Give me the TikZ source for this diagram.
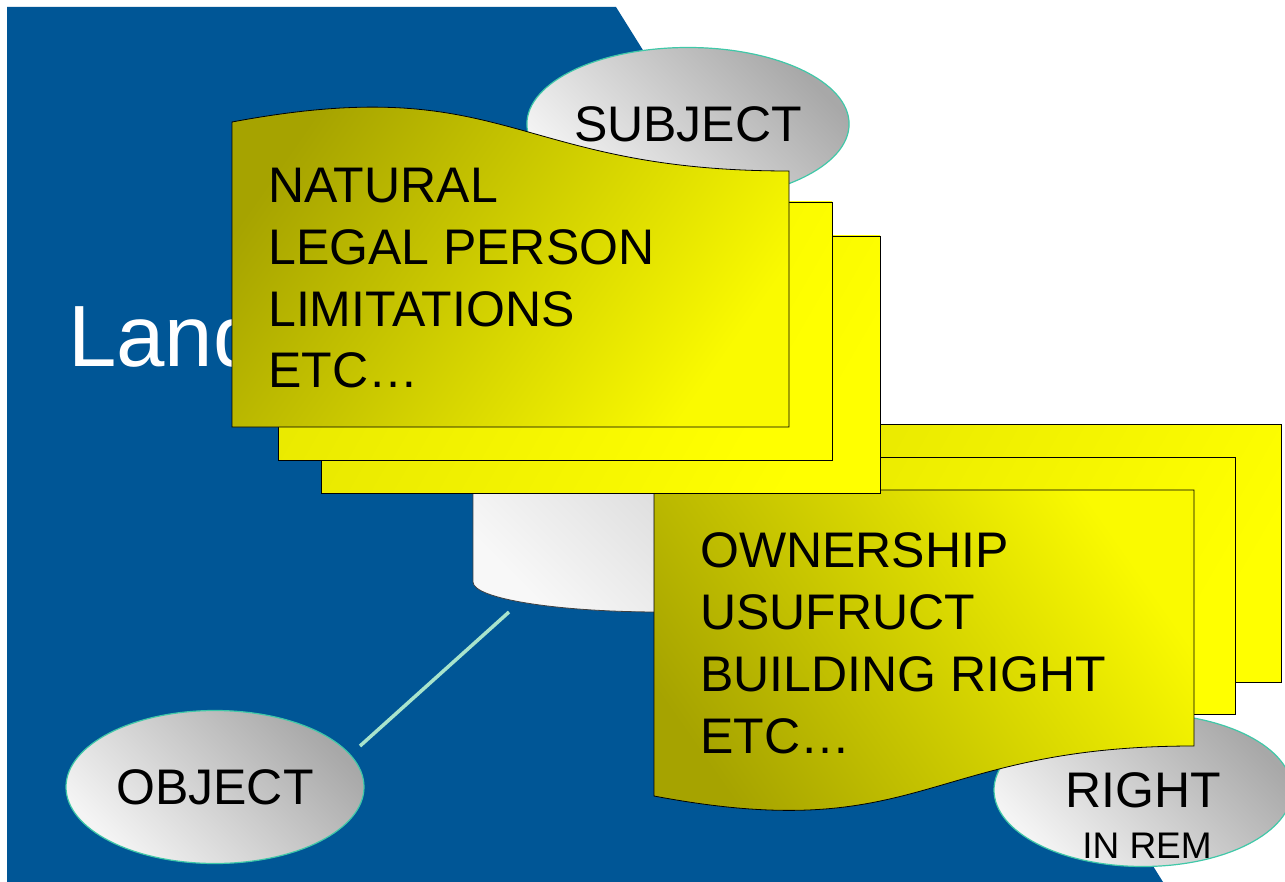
\documentclass[tikz,border=0pt]{standalone}
\usepackage{fontspec}
\setmainfont{Liberation Sans}
\usetikzlibrary{shapes.geometric}
\definecolor{landblue}{RGB}{0,86,150}
\definecolor{ovaldark}{RGB}{168,168,168}
\definecolor{ovallite}{RGB}{244,244,244}
\definecolor{ovalrim}{RGB}{64,200,168}
\definecolor{cardolive}{RGB}{166,163,0}
\definecolor{cardyellow}{RGB}{250,250,0}
\definecolor{backyellow}{RGB}{232,232,0}
\definecolor{linkgreen}{RGB}{168,228,204}
\definecolor{cylgray}{RGB}{208,208,208}
\definecolor{cyllite}{RGB}{248,248,248}
\begin{document}
\begin{tikzpicture}[x=1pt,y=-1pt,
  oval/.style={ellipse,draw=ovalrim,line width=1.2pt,top color=ovaldark,bottom color=ovallite,shading angle=-45,
    minimum width=298pt,minimum height=153pt,inner sep=0pt,font=\fontsize{50}{60}\selectfont},
  sheet/.style={draw=black,line width=.8pt,top color=backyellow,bottom color=yellow,shading angle=60},
  frontsheet/.style={draw=black,line width=.8pt,top color=cardolive,bottom color=cardyellow},
  cardtext/.style={anchor=base west,align=left,inner sep=0pt,font=\fontsize{50}{61.7}\selectfont},
  link/.style={draw=linkgreen,line width=3.5pt}]
\useasboundingbox(0,0)rectangle(1285,882);
\fill[white](0,0)rectangle(1285,882);
\fill[landblue](7,7)--(616,7)--(1163,882)--(7,882)--cycle;
\node[anchor=base west,inner sep=0pt,text=white,font=\fontsize{87}{87}\selectfont](land)at(68,367){Land};
% ovals
\node[oval](subject)at(688,124){SUBJECT};
\node[oval](object)at(215,787){OBJECT};
\node[oval](rem)at(1143,790){RIGHT};
\node[inner sep=0pt,font=\fontsize{37}{37}\selectfont](remsub)at(1147,846){IN REM};
% cylinder and its line
\shade[draw=black!75,line width=.8pt,top color=cylgray,bottom color=cyllite,shading angle=-45]
  (847,480)--(473,480)--(473,582)..controls(473,598.6)and(556.8,612)..(660,612)
  ..controls(763.2,612)and(847,598.6)..(847,582)--cycle;
\coordinate(cylfoot)at(509,612);
\coordinate(objtip)at(360,746);
\draw[link](cylfoot)--(objtip);
% right in rem sheets
\shade[sheet](741,424)rectangle(1281,682);
\shade[sheet](695,457)rectangle(1235,714);
\shade[frontsheet,shading angle=125](654,490)--(1194,490)--(1194,746)..controls(924,746)and(924,847)..(654,796)--cycle;
\node[cardtext](rightlist)at(700,753){OWNERSHIP\\USUFRUCT\\BUILDING RIGHT\\ETC…};
% subject sheets
\shade[sheet](321,236)rectangle(880,493);
\shade[sheet](278,202)rectangle(832,460);
\shade[frontsheet,shading angle=55](232,427)--(232,122)..controls(510,70)and(510,171)..(789,171)--(789,427)--cycle;
\node[cardtext](subjectlist)at(268,388){NATURAL\\LEGAL PERSON\\LIMITATIONS\\ETC…};
\end{tikzpicture}
\end{document}
